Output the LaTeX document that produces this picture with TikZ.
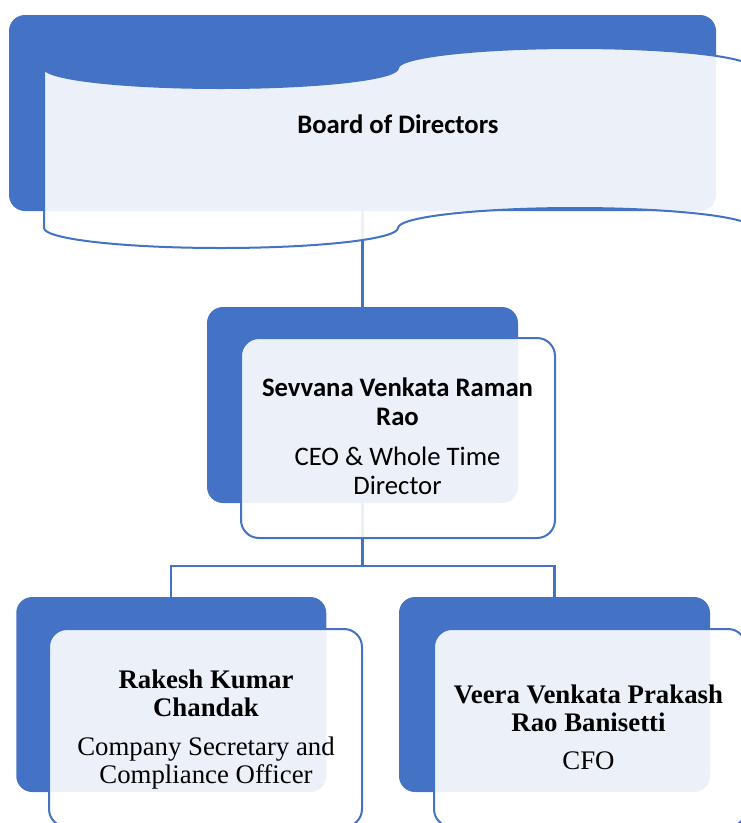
\documentclass[tikz,border=0pt]{standalone}
\usepackage{fontspec}
\newfontfamily\calibrif{Carlito}
\newfontfamily\timesf{Liberation Serif}
\definecolor{accent}{HTML}{4472C4}
\begin{document}
\begin{tikzpicture}[x=1pt,y=1pt,
  bluebox/.style={fill=accent, draw=none, rounded corners=16pt, inner sep=0pt},
  whitebox/.style={fill=white, fill opacity=0.9, draw=accent, draw opacity=1, line width=2pt, rounded corners=18pt, inner sep=0pt},
  link/.style={draw=accent, line width=2.3pt},
  txt/.style={align=center, inner sep=0pt, text=black}]
\useasboundingbox (0,0) rectangle (741,-823);
\clip (0,0) rectangle (741,-823);
% blue back boxes
\node[bluebox, minimum width=707pt, minimum height=196pt] (boardB) at (362.5,-113) {};
\node[bluebox, minimum width=311pt, minimum height=196pt] (ceoB) at (362.5,-405) {};
\node[bluebox, minimum width=310pt, minimum height=195pt] (leftB) at (171.25,-694.5) {};
\node[bluebox, minimum width=311pt, minimum height=195pt] (rightB) at (554.5,-694.5) {};
% connectors
\coordinate (split) at (362.5,-566);
\draw[link] (boardB.south) -- (ceoB.north);
\draw[link] (ceoB.south) -- (split);
\draw[link] (leftB.north) -- (leftB.north |- split) -- (rightB.north |- split) -- (rightB.north);
% front boxes
\path[whitebox, rounded corners=0pt] (44,-68)
  arc[start angle=180, end angle=360, x radius=177pt, y radius=20pt]
  arc[start angle=180, end angle=0, x radius=177pt, y radius=20pt]
  -- (752,-228)
  arc[start angle=0, end angle=180, x radius=177pt, y radius=20pt]
  arc[start angle=360, end angle=180, x radius=177pt, y radius=20pt]
  -- cycle;
\node[whitebox, minimum width=314pt, minimum height=200pt] (ceoW) at (398,-438) {};
\node[whitebox, minimum width=313pt, minimum height=198pt] (leftW) at (205.5,-728) {};
\node[whitebox, minimum width=312pt, minimum height=198pt] (rightW) at (590,-728) {};
% texts
\node[txt, font=\calibrif\bfseries\fontsize{26.7}{29}\selectfont, anchor=base] (board) at (398,-133) {Board of Directors};
\node[txt, font=\calibrif\fontsize{26.7}{29}\selectfont] (ceo) at (397.5,-436)
  {\textbf{Sevvana Venkata Raman}\\\textbf{Rao}\\[11pt]CEO \& Whole Time\\Director};
\node[txt, font=\timesf\fontsize{26.8}{28}\selectfont] (cs) at (206,-730)
  {\textbf{Rakesh Kumar}\\\textbf{Chandak}\\[11pt]Company Secretary and\\Compliance Officer};
\node[txt, font=\timesf\fontsize{26.8}{28}\selectfont] (cfo) at (588.5,-727)
  {\textbf{Veera Venkata Prakash}\\\textbf{Rao Banisetti}\\[10pt]CFO};
\end{tikzpicture}
\end{document}
